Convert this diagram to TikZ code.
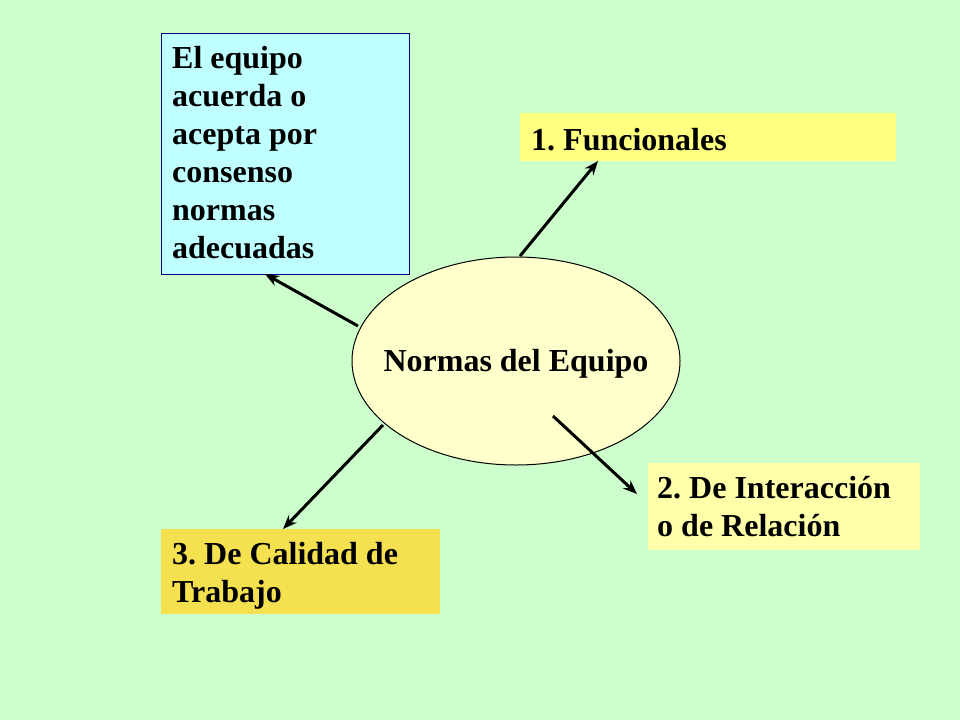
\documentclass[tikz,border=0pt]{standalone}
\usepackage{fontspec}
\setmainfont{Liberation Serif}
\usetikzlibrary{arrows.meta}
\definecolor{bg}{HTML}{CCFFCC}
\definecolor{cy}{HTML}{BFFFFF}
\definecolor{y1}{HTML}{FFFF80}
\definecolor{y2}{HTML}{FFFFAA}
\definecolor{y3}{HTML}{F5E050}
\definecolor{el}{HTML}{FFFFCC}
\tikzset{lbl/.style={font=\fontsize{32}{38}\selectfont\bfseries\frenchspacing,align=left,anchor=north west,inner sep=0pt},
arr/.style={-{Stealth[length=14pt,width=11pt]},line width=3pt}}
\begin{document}
\begin{tikzpicture}[x=1pt,y=-1pt]
\fill[bg] (0,0) rectangle (960,720);
\useasboundingbox (0,0) rectangle (960,720);
\draw[fill=cy,draw=blue!50!black,line width=1pt] (161,33) rectangle (409,274);
\node[lbl] (a) at (172,46) {El equipo\\acuerda o\\acepta por\\consenso\\normas\\adecuadas};
\fill[y1] (520,113) rectangle (896,161);
\node[lbl,anchor=west] (b) at (531,140) {1. Funcionales};
\fill[y2] (648,463) rectangle (920,550);
\node[lbl] (c) at (657,476) {2. De Interacción\\o de Relación};
\fill[y3] (161,529) rectangle (440,614);
\node[lbl] (d) at (172,542) {3. De Calidad de\\Trabajo};
\draw[fill=el,line width=1pt] (516,361) ellipse [x radius=164,y radius=104];
\node[lbl,anchor=center] (e) at (516,364) {Normas del Equipo};
\coordinate (a1) at (358,326); \coordinate (a2) at (265,274);
\coordinate (b1) at (520,256); \coordinate (b2) at (598,161);
\coordinate (c1) at (553,416); \coordinate (c2) at (637,494);
\coordinate (d1) at (383,425); \coordinate (d2) at (283,529);
\draw[arr] (a1)--(a2);
\draw[arr] (b1)--(b2);
\draw[arr] (c1)--(c2);
\draw[arr] (d1)--(d2);
\end{tikzpicture}
\end{document}
